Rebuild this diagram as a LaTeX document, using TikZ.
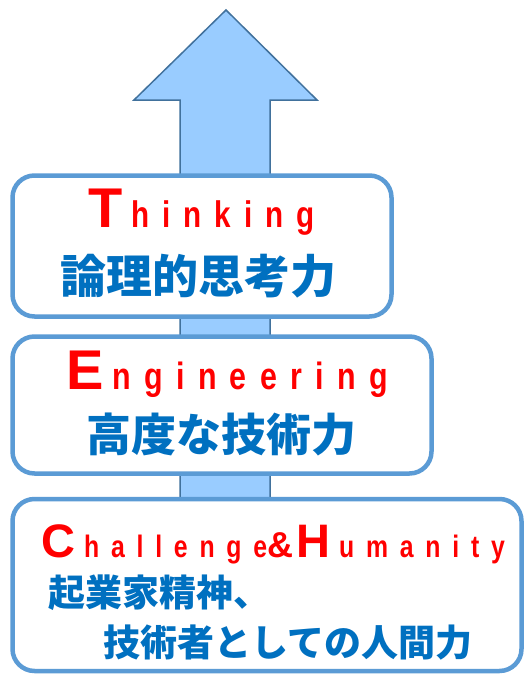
\documentclass[tikz,border=0pt]{standalone}
\usepackage{fontspec}
\usepackage{tikz}
\newfontfamily\jpfont{Noto Sans CJK JP}
\newfontfamily\capfont{Liberation Sans}
\newfontfamily\lowfont[FakeStretch=0.8,LetterSpace=35]{Liberation Sans}
\definecolor{arrowfill}{HTML}{99CCFF}
\definecolor{arrowline}{HTML}{41719C}
\definecolor{boxline}{HTML}{5B9BD5}
\definecolor{jpblue}{HTML}{0070C0}
\newcommand{\capletter}[2]{{\capfont\fontsize{#1}{#1}\selectfont #2}\hspace{9pt}}

\begin{document}
\begin{tikzpicture}[x=1pt,y=-1pt,
                    box/.style={rectangle,draw=boxline,line width=4.5pt,
                    fill=white,rounded corners=22pt},
                    word/.style={anchor=base west,inner sep=0pt,text=red,
                    font=\lowfont\bfseries\fontsize{#1}{#1}\selectfont},
                    jp/.style={anchor=base west,inner sep=0pt,text=jpblue,
                    font=\jpfont\bfseries\fontsize{#1}{#1}\selectfont}]
    \useasboundingbox (0,0) rectangle (527,675);
    \draw[fill=arrowfill,draw=arrowline,line width=1.5pt]
        (226,10) -- (317,100) -- (270,100) -- (270,520)
        -- (180,520) -- (180,100) -- (134,100) -- cycle;
    \node[box,minimum width=379pt,minimum height=141pt](n001) at (202,246) {};
    \node[box,minimum width=419pt,minimum height=137pt](n002) at (222,405) {};
    \node[box,minimum width=509pt,minimum height=172pt](n003) at (267,585) {};
    \node[word=37](n011) at (88,227) {\capletter{56}{T}hinking};
    \node[jp=46](n012) at (60,293) {論理的思考力};
    \node[word=38](n021) at (66,389) {\capletter{56}{E}ngineering};
    \node[jp=45](n022) at (86,451) {高度な技術力};
    \node[word=31](n031) at (41,557) {\addfontfeature{LetterSpace=38}%
        \capletter{47}{C}hallenge{\capfont\fontsize{36}{36}\selectfont\&}%
        \hspace{3pt}\capletter{47}{H}umanity};
    \node[jp=37](n032) at (48,606) {起業家精神、};
    \node[jp=37](n033) at (103,656) {技術者としての人間力};
\end{tikzpicture}
\end{document}
